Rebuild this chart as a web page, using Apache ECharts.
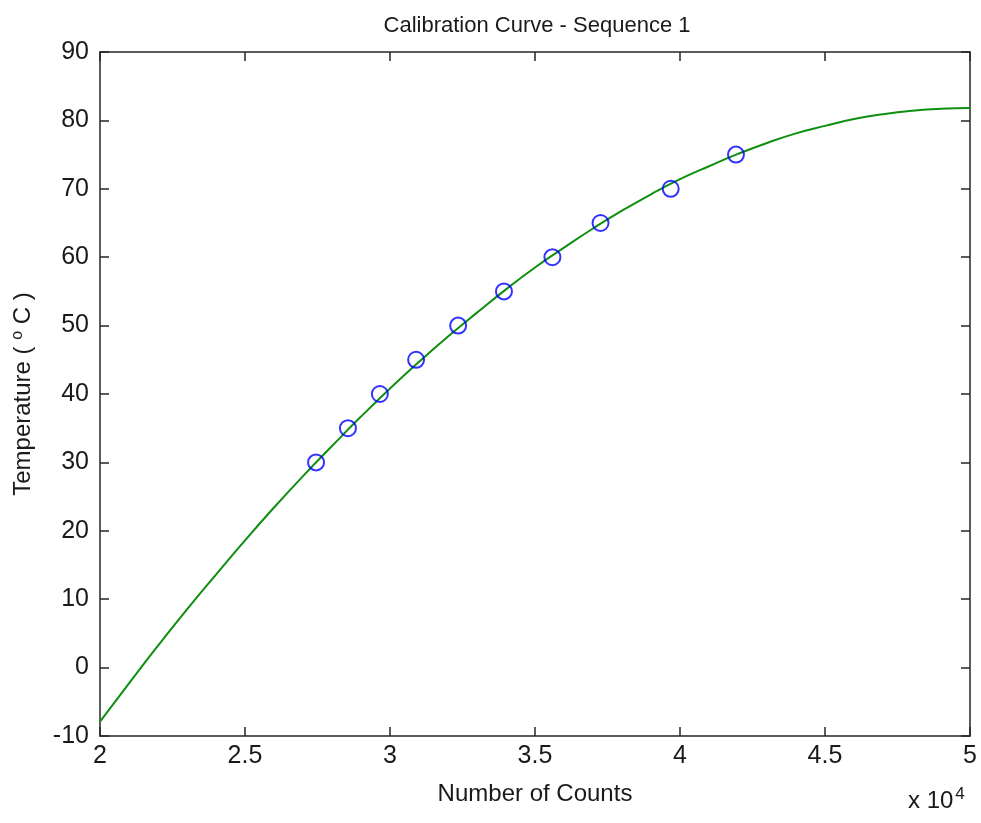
<!DOCTYPE html>
<html>
<head>
<meta charset="utf-8">
<script src="https://cdn.jsdelivr.net/npm/echarts@6/dist/echarts.min.js"></script>
<style>
  html, body { margin: 0; padding: 0; background: #fff; }
  #chart { width: 981px; height: 823px; }
</style>
</head>
<body>
<div id="chart"></div>
<script>
// Calibration data points (counts, temperature °C)
const pointCounts = [27450, 28550, 29650, 30900, 32350, 33930, 35600, 37260, 39680, 41930];
const pointTemps  = [30, 35, 40, 45, 50, 55, 60, 65, 70, 75];

// Fitted calibration curve
const curveCounts = [20000, 21000, 22000, 23000, 24000, 25000, 26000, 27000, 28000, 29000,
                     30000, 31000, 32000, 33000, 34000, 35000, 36000, 37000, 38000, 39000,
                     40000, 41000, 42000, 43000, 44000, 45000, 46000, 47000, 48000, 49000, 50000];
const curveTemps  = [-7.9, -2.3, 3.2, 8.5, 13.6, 18.6, 23.4, 28.0, 32.4, 36.7,
                     40.8, 44.7, 48.4, 51.9, 55.3, 58.5, 61.4, 64.2, 66.8, 69.2,
                     71.4, 73.3, 75.1, 76.7, 78.1, 79.2, 80.2, 80.9, 81.4, 81.7, 81.8];

const xTicks = [2, 2.5, 3, 3.5, 4, 4.5, 5];           // ×10^4
const yTicks = [-10, 0, 10, 20, 30, 40, 50, 60, 70, 80, 90];

const FONT = "'Liberation Sans', Arial, sans-serif";
const AX = '#262626';
const TXT = '#1a1a1a';

const chart = echarts.init(document.getElementById('chart'), null, { renderer: 'canvas' });

const baseAxisLine = { show: true, onZero: false, lineStyle: { color: AX, width: 1.5 } };
const baseTick = { show: true, inside: true, length: 9, lineStyle: { color: AX, width: 1.5 } };

chart.setOption({
  animation: false,
  backgroundColor: '#ffffff',
  title: {
    text: 'Calibration Curve - Sequence 1',
    left: 532, top: 10, textAlign: 'center',
    textStyle: { fontFamily: FONT, fontSize: 22, fontWeight: 'normal', color: TXT }
  },
  grid: { left: 100, right: 11, top: 52, bottom: 87, containLabel: false },
  xAxis: [{
    type: 'value', min: 20000, max: 50000, interval: 5000,
    position: 'bottom',
    name: 'Number of Counts', nameLocation: 'middle', nameGap: 46,
    nameTextStyle: { fontFamily: FONT, fontSize: 24, color: TXT },
    axisLine: baseAxisLine, axisTick: baseTick,
    axisLabel: { fontFamily: FONT, fontSize: 25, color: TXT, margin: 8,
      formatter: v => String(xTicks[Math.round((v - 20000) / 5000)]) },
    splitLine: { show: false }
  }, {
    type: 'value', min: 20000, max: 50000, interval: 5000,
    position: 'top',
    axisLine: baseAxisLine, axisTick: baseTick,
    axisLabel: { show: false }, splitLine: { show: false }
  }],
  yAxis: [{
    type: 'value', min: -10, max: 90, interval: 10,
    position: 'left',
    name: 'Temperature ( {sup|o} C )', nameLocation: 'middle', nameGap: 64, nameRotate: 90,
    nameTextStyle: { fontFamily: FONT, fontSize: 24, color: TXT,
      rich: { sup: { fontFamily: FONT, fontSize: 16, color: TXT, verticalAlign: 'top', padding: [0, 0, 10, 0] } } },
    axisLine: baseAxisLine, axisTick: baseTick,
    axisLabel: { fontFamily: FONT, fontSize: 25, color: TXT, margin: 11,
      formatter: v => String(yTicks[Math.round((v + 10) / 10)]) },
    splitLine: { show: false }
  }, {
    type: 'value', min: -10, max: 90, interval: 10,
    position: 'right',
    axisLine: baseAxisLine, axisTick: baseTick,
    axisLabel: { show: false }, splitLine: { show: false }
  }],
  graphic: [{
    type: 'text', left: 908, top: 786,
    style: {
      text: 'x 10{sup|4}',
      font: "24px 'Liberation Sans', Arial, sans-serif",
      fill: TXT,
      rich: { sup: { fontSize: 17, fill: TXT, verticalAlign: 'top', padding: [0, 0, 14, 2] } }
    }
  }],
  series: [{
    type: 'line',
    data: curveCounts.map((c, i) => [c, curveTemps[i]]),
    smooth: true, showSymbol: false, symbol: 'none',
    lineStyle: { color: '#0f8f0f', width: 2 },
    z: 2
  }, {
    type: 'scatter',
    data: pointCounts.map((c, i) => [c, pointTemps[i]]),
    symbol: 'circle', symbolSize: 16,
    itemStyle: { color: 'rgba(0,0,0,0)', borderColor: '#0000ff', borderWidth: 2 },
    z: 3
  }]
});
</script>
</body>
</html>
